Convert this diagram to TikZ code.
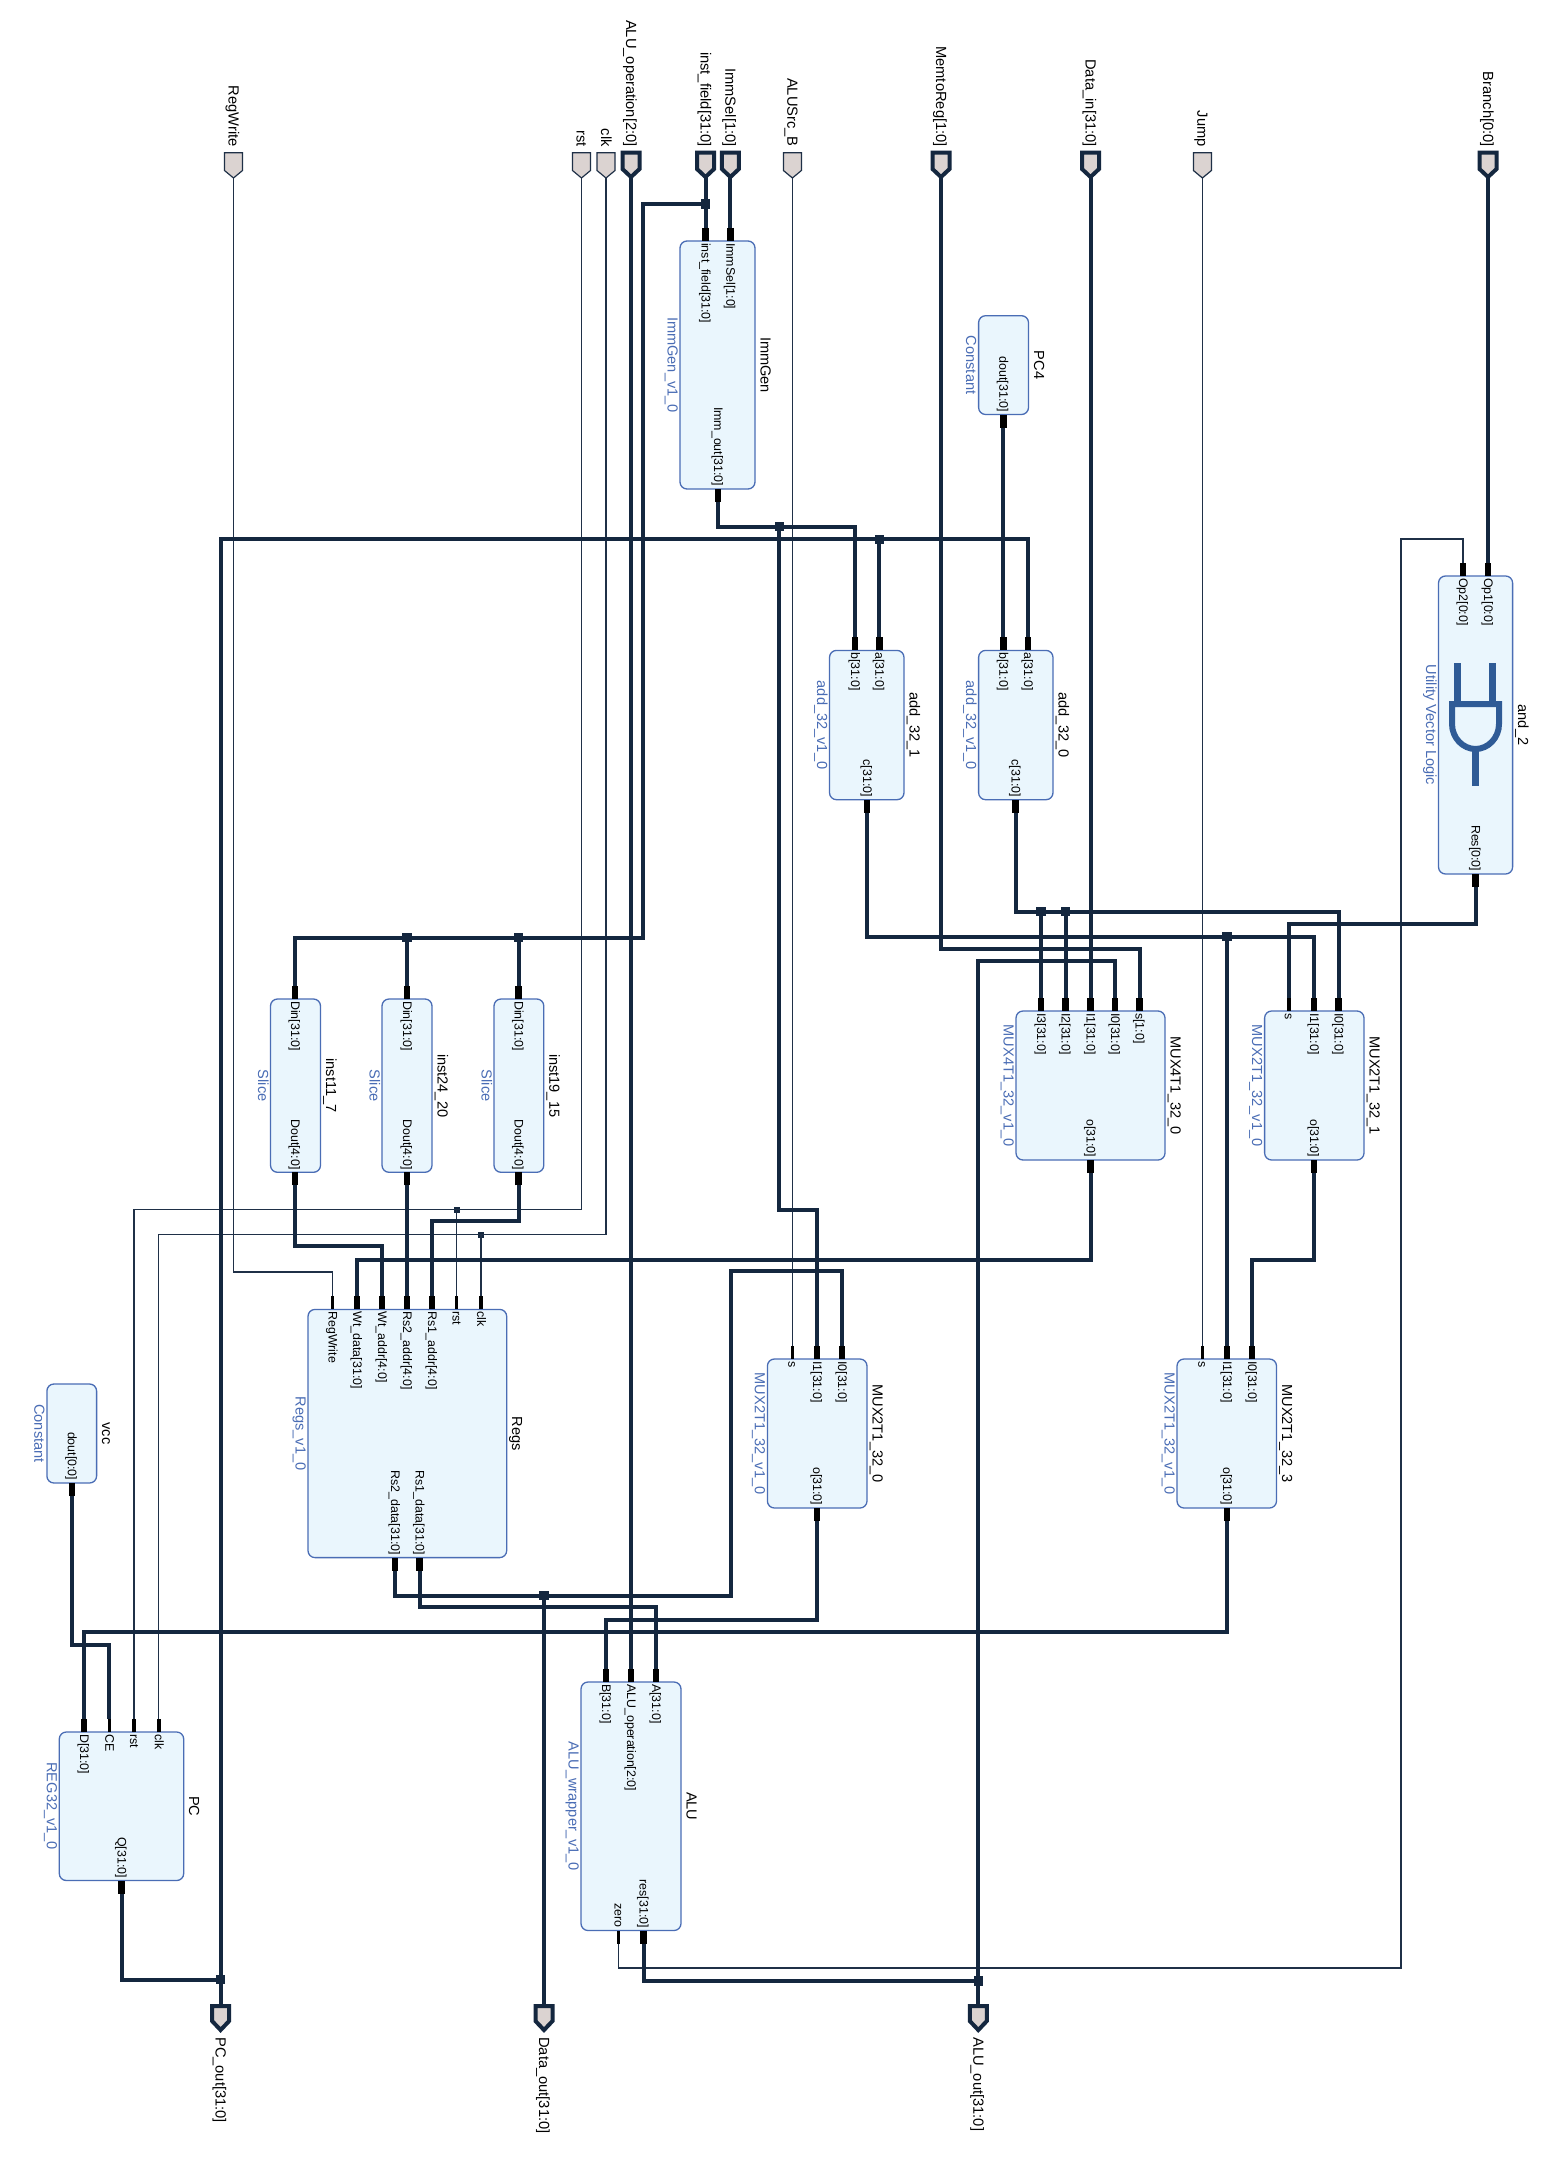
\documentclass[tikz,border=0pt]{standalone}
\usepackage{fontspec}
\setmainfont{Liberation Sans}
\definecolor{wirec}{HTML}{14273F}
\definecolor{thinc}{HTML}{1F3047}
\definecolor{boxfill}{HTML}{EAF6FD}
\definecolor{boxline}{HTML}{4A6DB5}
\definecolor{typec}{HTML}{4A6DB5}
\definecolor{portfill}{HTML}{DBD3D1}
\definecolor{gatec}{HTML}{2F5B96}
\tikzset{
  x=1pt,y=-1pt,
  bus/.style={draw=wirec,line width=4pt,miter limit=10},
  sig/.style={draw=thinc,line width=1.3pt},
  ipbox/.style={draw=boxline,fill=boxfill,line width=1.3pt,rounded corners=7pt,inner sep=0pt,outer sep=0pt},
  instname/.style={rotate=-90,anchor=base,inner sep=0pt,font=\fontsize{14.6}{16}\selectfont,text=black},
  typename/.style={rotate=-90,anchor=base,inner sep=0pt,font=\fontsize{14.6}{16}\selectfont,text=typec},
  pinin/.style={rotate=-90,anchor=base west,inner sep=0pt,font=\fontsize{12.4}{14}\selectfont,text=black},
  pinout/.style={rotate=-90,anchor=base east,inner sep=0pt,font=\fontsize{12.4}{14}\selectfont,text=black},
  portin/.style={rotate=-90,anchor=base east,inner sep=0pt,font=\fontsize{14.7}{16}\selectfont,text=black},
  portout/.style={rotate=-90,anchor=base west,inner sep=0pt,font=\fontsize{14.7}{16}\selectfont,text=black},
  stubbus/.style={draw=black,line width=6.5pt},
  stubsig/.style={draw=black,line width=3.4pt},
  juncbig/.style={fill=wirec,draw=none,minimum size=9.5pt,inner sep=0pt,outer sep=0pt},
  juncsmall/.style={fill=wirec,draw=none,minimum size=6pt,inner sep=0pt,outer sep=0pt},
  portbus/.style={draw=wirec,fill=portfill,line width=4pt,miter limit=10},
  portsig/.style={draw=thinc,fill=portfill,line width=1.2pt,miter limit=10},
  gateline/.style={draw=gatec,line width=7pt},
  gatebody/.style={draw=gatec,line width=6pt},
}
% name x1 y1 x2 y2 instance type
\newcommand\ipblock[7]{%
  \node[ipbox,minimum width={(#4-#2)*1pt},minimum height={(#5-#3)*1pt}] (#1) at ({(#2+#4)/2},{(#3+#5)/2}) {};
  \node[instname] (#1-name) at ({#4+5.5},{(#3+#5)/2}) {#6};
  \node[typename] (#1-type) at ({#2-12.5},{(#3+#5)/2}) {#7};
}
% name x ytop label stubstyle
\newcommand\pinI[5]{%
  \coordinate (#1) at (#2,{#3-13});
  \draw[#5] (#1) -- (#2,#3);
  \node[pinin] (#1-lab) at ({#2-4},{#3+2}) {#4};
}
% name x ybottom label stubstyle
\newcommand\pinO[5]{%
  \coordinate (#1) at (#2,{#3+13});
  \draw[#5] (#1) -- (#2,#3);
  \node[pinout] (#1-lab) at ({#2-4},{#3-2.5}) {#4};
}
\newcommand\inportbus[3]{%
  \coordinate (#1) at (#2,176);
  \node[portin] (#1-lab) at ({#2-5},147) {#3};
}
\newcommand\inportsig[3]{%
  \coordinate (#1) at (#2,178);
  \node[portin] (#1-lab) at ({#2-5},147) {#3};
}
\newcommand\outport[3]{%
  \coordinate (#1) at (#2,2006);
  \node[portout] (#1-lab) at ({#2-5},2037) {#3};
}
\newcommand\shapebus[1]{\draw[portbus] ({#1-8.5},152.7) -- ({#1+8.5},152.7) -- ({#1+8.5},169) -- (#1,177) -- ({#1-8.5},169) -- cycle;}
\newcommand\shapesig[1]{\draw[portsig] ({#1-9},152.7) -- ({#1+9},152.7) -- ({#1+9},170.5) -- (#1,178) -- ({#1-9},170.5) -- cycle;}
\newcommand\shapeout[1]{\draw[portbus] ({#1-8.5},2006) -- ({#1+8.5},2006) -- ({#1+8.5},2021) -- (#1,2030) -- ({#1-8.5},2021) -- cycle;}
% vertical, horizontal at level, vertical
\newcommand\vhv[4][bus]{\draw[#1] (#2) -- (#2 |- 0,#3) -- (#4 |- 0,#3) -- (#4);}
\begin{document}
\begin{tikzpicture}
\useasboundingbox (0,0) rectangle (1545,2159);
\fill[white] (0,0) rectangle (1545,2159);

% blocks
\ipblock{immgen}{680}{241}{755}{489}{ImmGen}{ImmGen\_v1\_0}
\ipblock{pcfour}{978.6}{315.7}{1028.5}{414.5}{PC4}{Constant}
\ipblock{addone}{829.5}{650.4}{904}{799.7}{add\_32\_1}{add\_32\_v1\_0}
\ipblock{addzero}{978.6}{650.4}{1053}{799.7}{add\_32\_0}{add\_32\_v1\_0}
\ipblock{andtwo}{1438.5}{576}{1512.6}{874}{and\_2}{Utility Vector Logic}
\ipblock{sliceA}{270.5}{999}{320.5}{1172.3}{inst11\_7}{Slice}
\ipblock{sliceB}{382}{999}{432}{1172.3}{inst24\_20}{Slice}
\ipblock{sliceC}{494}{999}{543.8}{1172.3}{inst19\_15}{Slice}
\ipblock{muxfour}{1016}{1011}{1165}{1160}{MUX4T1\_32\_0}{MUX4T1\_32\_v1\_0}
\ipblock{muxone}{1264.6}{1011}{1364}{1160}{MUX2T1\_32\_1}{MUX2T1\_32\_v1\_0}
\ipblock{regs}{308}{1309.4}{506.7}{1557.6}{Regs}{Regs\_v1\_0}
\ipblock{muxzero}{767.4}{1359}{867}{1508}{MUX2T1\_32\_0}{MUX2T1\_32\_v1\_0}
\ipblock{muxthree}{1177}{1359}{1276.5}{1508}{MUX2T1\_32\_3}{MUX2T1\_32\_v1\_0}
\ipblock{vcc}{46.9}{1384}{96.6}{1483}{vcc}{Constant}
\ipblock{pc}{59.3}{1732}{183.7}{1880.5}{PC}{REG32\_v1\_0}
\ipblock{alu}{581}{1682}{681}{1930.5}{ALU}{ALU\_wrapper\_v1\_0}

% gate icon
\draw[gateline] (1457,663) -- (1457,703);
\draw[gateline] (1492.6,663) -- (1492.6,703);
\draw[gatebody] (1452,704) -- (1499,704) -- (1499,724) .. controls (1499,738) and (1488,749) .. (1475.5,749) .. controls (1463,749) and (1452,738) .. (1452,724) -- cycle;
\draw[gateline] (1475.5,749) -- (1475.5,786);

% pins
\pinI{immI}{705.5}{241}{inst\_field[31:0]}{stubbus}
\pinI{immS}{730.4}{241}{ImmSel[1:0]}{stubbus}
\pinO{immO}{718}{489}{Imm\_out[31:0]}{stubbus}
\pinO{pcfourO}{1003.3}{414.5}{dout[31:0]}{stubbus}
\pinI{addoneA}{879.3}{650.4}{a[31:0]}{stubbus}
\pinI{addoneB}{855}{650.4}{b[31:0]}{stubbus}
\pinO{addoneC}{867}{799.7}{c[31:0]}{stubbus}
\pinI{addzeroA}{1028}{650.4}{a[31:0]}{stubbus}
\pinI{addzeroB}{1003.3}{650.4}{b[31:0]}{stubbus}
\pinO{addzeroC}{1015.7}{799.7}{c[31:0]}{stubbus}
\pinI{andA}{1488}{576}{Op1[0:0]}{stubbus}
\pinI{andB}{1463}{576}{Op2[0:0]}{stubbus}
\pinO{andO}{1475.5}{874}{Res[0:0]}{stubbus}
\pinI{sliceAI}{295}{999}{Din[31:0]}{stubbus}
\pinO{sliceAO}{295}{1172.3}{Dout[4:0]}{stubbus}
\pinI{sliceBI}{407}{999}{Din[31:0]}{stubbus}
\pinO{sliceBO}{407}{1172.3}{Dout[4:0]}{stubbus}
\pinI{sliceCI}{518.7}{999}{Din[31:0]}{stubbus}
\pinO{sliceCO}{518.7}{1172.3}{Dout[4:0]}{stubbus}
\pinI{mfI3}{1041}{1011}{I3[31:0]}{stubbus}
\pinI{mfI2}{1065.6}{1011}{I2[31:0]}{stubbus}
\pinI{mfI1}{1090.5}{1011}{I1[31:0]}{stubbus}
\pinI{mfI0}{1115}{1011}{I0[31:0]}{stubbus}
\pinI{mfS}{1139.7}{1011}{s[1:0]}{stubbus}
\pinO{mfO}{1090.5}{1160}{o[31:0]}{stubbus}
\pinI{moS}{1288.8}{1011}{s}{stubsig}
\pinI{moI1}{1314}{1011}{I1[31:0]}{stubbus}
\pinI{moI0}{1338.7}{1011}{I0[31:0]}{stubbus}
\pinO{moO}{1314}{1160}{o[31:0]}{stubbus}
\pinI{rgRW}{332.6}{1309.4}{RegWrite}{stubsig}
\pinI{rgWD}{357}{1309.4}{Wt\_data[31:0]}{stubbus}
\pinI{rgWA}{382}{1309.4}{Wt\_addr[4:0]}{stubbus}
\pinI{rgR2}{407}{1309.4}{Rs2\_addr[4:0]}{stubbus}
\pinI{rgR1}{432}{1309.4}{Rs1\_addr[4:0]}{stubbus}
\pinI{rgRst}{456.7}{1309.4}{rst}{stubsig}
\pinI{rgClk}{481}{1309.4}{clk}{stubsig}
\pinO{rgD2}{395}{1557.6}{Rs2\_data[31:0]}{stubbus}
\pinO{rgD1}{419.6}{1557.6}{Rs1\_data[31:0]}{stubbus}
\pinI{mzS}{792.4}{1359}{s}{stubsig}
\pinI{mzI1}{817}{1359}{I1[31:0]}{stubbus}
\pinI{mzI0}{842}{1359}{I0[31:0]}{stubbus}
\pinO{mzO}{817}{1508}{o[31:0]}{stubbus}
\pinI{mtS}{1202.4}{1359}{s}{stubsig}
\pinI{mtI1}{1227}{1359}{I1[31:0]}{stubbus}
\pinI{mtI0}{1252}{1359}{I0[31:0]}{stubbus}
\pinO{mtO}{1227}{1508}{o[31:0]}{stubbus}
\pinO{vccO}{71.8}{1483}{dout[0:0]}{stubbus}
\pinI{pcD}{84.2}{1732}{D[31:0]}{stubbus}
\pinI{pcCE}{109.3}{1732}{CE}{stubsig}
\pinI{pcRst}{134}{1732}{rst}{stubsig}
\pinI{pcClk}{158.8}{1732}{clk}{stubsig}
\pinO{pcQ}{121.5}{1880.5}{Q[31:0]}{stubbus}
\pinI{aluB}{606}{1682}{B[31:0]}{stubbus}
\pinI{aluOp}{631}{1682}{ALU\_operation[2:0]}{stubbus}
\pinI{aluA}{656}{1682}{A[31:0]}{stubbus}
\pinO{aluZ}{618.7}{1930.5}{zero}{stubsig}
\pinO{aluR}{643.5}{1930.5}{res[31:0]}{stubbus}

% top-level ports
\inportsig{pRegWrite}{233.5}{RegWrite}
\inportsig{pRst}{581.5}{rst}
\inportsig{pClk}{606}{clk}
\inportbus{pAluOp}{631}{ALU\_operation[2:0]}
\inportbus{pInst}{705.5}{inst\_field[31:0]}
\inportbus{pImmSel}{730.4}{ImmSel[1:0]}
\inportsig{pAluSrc}{792.4}{ALUSrc\_B}
\inportbus{pMem}{941}{MemtoReg[1:0]}
\inportbus{pData}{1090.5}{Data\_in[31:0]}
\inportsig{pJump}{1202.4}{Jump}
\inportbus{pBranch}{1488}{Branch[0:0]}
\outport{oPC}{220.6}{PC\_out[31:0]}
\outport{oData}{544}{Data\_out[31:0]}
\outport{oAlu}{978.3}{ALU\_out[31:0]}

% junctions
\node[juncbig] (jInst) at (705.5,204) {};
\node[juncbig] (jSliceB) at (407,937.5) {};
\node[juncbig] (jSliceC) at (518.7,937.5) {};
\node[juncbig] (jImm) at (779.3,526.5) {};
\node[juncbig] (jPC) at (879.3,539.3) {};
\node[juncbig] (jI3) at (1041,911.7) {};
\node[juncbig] (jI2) at (1065.6,911.7) {};
\node[juncbig] (jAddOne) at (1227,936.7) {};
\node[juncbig] (jRs2) at (544,1595.6) {};
\node[juncbig] (jPCout) at (220.6,1979.5) {};
\node[juncbig] (jAluOut) at (978.3,1981) {};
\node[juncsmall] (jRst) at (456.7,1209.8) {};
\node[juncsmall] (jClk) at (481,1234.8) {};

% thin connectors
\vhv[sig]{pRegWrite}{1272}{rgRW}
\vhv[sig]{pRst}{1209.8}{pcRst}
\vhv[sig]{pClk}{1234.8}{pcClk}
\draw[sig] (jRst.center) -- (rgRst);
\draw[sig] (jClk.center) -- (rgClk);
\draw[sig] (pAluSrc) -- (mzS);
\draw[sig] (pJump) -- (mtS);
\draw[sig] (aluZ) -- (aluZ |- 0,1968) -- (1401,1968) -- (1401,539) -- (andB |- 0,539) -- (andB);

% bus connectors
\draw[bus] (pAluOp) -- (aluOp);
\draw[bus] (pInst) -- (immI);
\draw[bus] (jInst.center) -- (643,204) -- (643,937.5) -- (sliceAI |- 0,937.5) -- (sliceAI);
\draw[bus] (jSliceB.center) -- (sliceBI);
\draw[bus] (jSliceC.center) -- (sliceCI);
\draw[bus] (pImmSel) -- (immS);
\vhv{pMem}{949}{mfS}
\draw[bus] (pData) -- (mfI1);
\draw[bus] (pBranch) -- (andA);
\draw[bus] (pcfourO) -- (addzeroB);
\vhv{immO}{526.5}{addoneB}
\draw[bus] (jImm.center) -- (jImm |- 0,1209.8) -- (mzI1 |- 0,1209.8) -- (mzI1);
\draw[bus] (oPC) -- (oPC |- 0,539.3) -- (addzeroA |- 0,539.3) -- (addzeroA);
\draw[bus] (jPC.center) -- (addoneA);
\vhv{addzeroC}{911.7}{moI0}
\draw[bus] (jI3.center) -- (mfI3);
\draw[bus] (jI2.center) -- (mfI2);
\vhv{addoneC}{936.7}{moI1}
\draw[bus] (jAddOne.center) -- (mtI1);
\vhv{andO}{924.2}{moS}
\vhv{mfO}{1259.5}{rgWD}
\vhv{moO}{1259.5}{mtI0}
\vhv{mtO}{1632}{pcD}
\vhv{mzO}{1619.6}{aluB}
\vhv{rgD1}{1607}{aluA}
\draw[bus] (rgD2) -- (rgD2 |- 0,1595.6) -- (730.6,1595.6) -- (730.6,1271.4) -- (mzI0 |- 0,1271.4) -- (mzI0);
\draw[bus] (jRs2.center) -- (oData);
\vhv{sliceCO}{1221.4}{rgR1}
\draw[bus] (sliceBO) -- (rgR2);
\vhv{sliceAO}{1246}{rgWA}
\vhv{vccO}{1645}{pcCE}
\draw[bus] (pcQ) -- (pcQ |- jPCout.center) -- (jPCout.center);
\draw[bus] (aluR) -- (aluR |- jAluOut.center) -- (jAluOut.center);
\draw[bus] (mfI0) -- (mfI0 |- 0,961) -- (oAlu |- 0,961) -- (oAlu);

% port shapes
\shapesig{233.5}\shapesig{581.5}\shapesig{606}\shapesig{792.4}\shapesig{1202.4}
\shapebus{631}\shapebus{705.5}\shapebus{730.4}\shapebus{941}\shapebus{1090.5}\shapebus{1488}
\shapeout{220.6}\shapeout{544}\shapeout{978.3}
\end{tikzpicture}
\end{document}
